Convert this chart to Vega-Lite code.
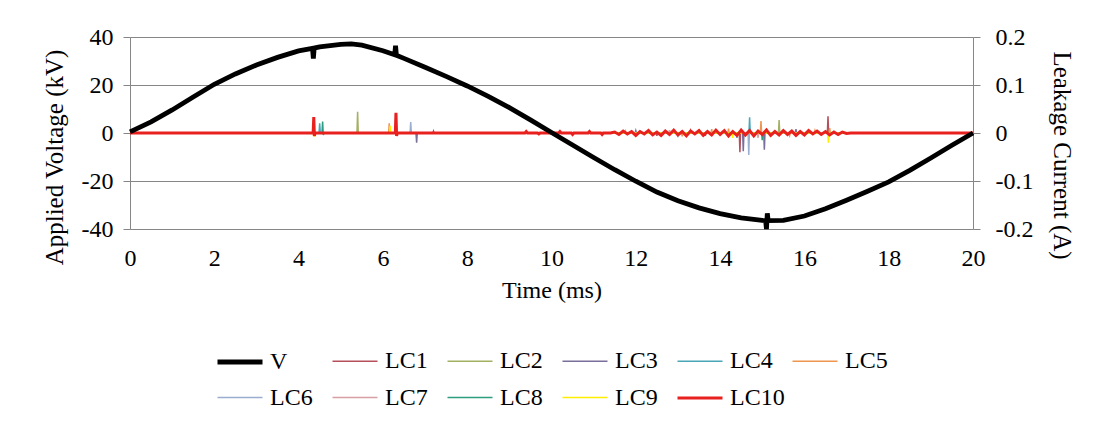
{
  "$schema": "https://vega.github.io/schema/vega-lite/v6.json",
  "width": 843,
  "height": 192,
  "autosize": {"type": "none"},
  "padding": {"left": 130, "top": 37, "right": 121, "bottom": 200},
  "background": "white",
  "config": {
    "view": {"stroke": null},
    "font": "Liberation Serif",
    "axis": {
      "labelFont": "Liberation Serif", "labelFontSize": 24, "labelColor": "#000000",
      "titleFont": "Liberation Serif", "titleFontSize": 24, "titleFontWeight": "normal", "titleColor": "#000000",
      "domainColor": "#868686", "tickColor": "#868686", "gridColor": "#868686", "gridOpacity": 1
    }
  },
  "datasets": {
    "volt": [
      {"s":"V","t":0,"v":0.5},{"s":"V","t":0.5,"v":4.6},{"s":"V","t":1,"v":9.6},{"s":"V","t":1.5,"v":15.0},
      {"s":"V","t":2,"v":20.3},{"s":"V","t":2.5,"v":24.6},{"s":"V","t":3,"v":28.3},{"s":"V","t":3.5,"v":31.5},
      {"s":"V","t":4,"v":34.2},{"s":"V","t":4.33,"v":35.3},{"s":"V","t":4.35,"v":31.0},{"s":"V","t":4.37,"v":35.4},
      {"s":"V","t":4.5,"v":35.9},{"s":"V","t":5,"v":36.9},{"s":"V","t":5.25,"v":37.1},{"s":"V","t":5.5,"v":36.6},{"s":"V","t":6,"v":34.3},
      {"s":"V","t":6.28,"v":32.6},{"s":"V","t":6.3,"v":36.4},{"s":"V","t":6.32,"v":32.4},
      {"s":"V","t":6.5,"v":31.1},{"s":"V","t":7,"v":27.4},{"s":"V","t":7.5,"v":23.6},{"s":"V","t":8,"v":19.6},
      {"s":"V","t":8.5,"v":15.3},{"s":"V","t":9,"v":10.6},{"s":"V","t":9.5,"v":5.5},{"s":"V","t":10,"v":0.2},
      {"s":"V","t":10.5,"v":-5.0},{"s":"V","t":11,"v":-10.2},{"s":"V","t":11.5,"v":-15.3},{"s":"V","t":12,"v":-20.1},
      {"s":"V","t":12.5,"v":-24.6},{"s":"V","t":13,"v":-28.2},{"s":"V","t":13.5,"v":-31.2},{"s":"V","t":14,"v":-33.6},
      {"s":"V","t":14.5,"v":-35.4},{"s":"V","t":15,"v":-36.4},
      {"s":"V","t":15.08,"v":-36.5},{"s":"V","t":15.1,"v":-40.0},{"s":"V","t":15.12,"v":-33.5},{"s":"V","t":15.14,"v":-36.5},
      {"s":"V","t":15.5,"v":-36.4},{"s":"V","t":16,"v":-34.6},{"s":"V","t":16.5,"v":-31.6},{"s":"V","t":17,"v":-28.0},
      {"s":"V","t":17.5,"v":-24.3},{"s":"V","t":18,"v":-20.4},{"s":"V","t":18.5,"v":-15.6},{"s":"V","t":19,"v":-10.4},
      {"s":"V","t":19.5,"v":-5.1},{"s":"V","t":20,"v":0}
    ],
    "lc": [
      {"s":"LC1","t":0,"a":0},{"s":"LC1","t":7.185,"a":0},{"s":"LC1","t":7.2,"a":0.004},{"s":"LC1","t":7.215,"a":0},
      {"s":"LC1","t":12.485,"a":0},{"s":"LC1","t":12.5,"a":-0.006},{"s":"LC1","t":12.515,"a":0},
      {"s":"LC1","t":13.285,"a":0},{"s":"LC1","t":13.3,"a":0.005},{"s":"LC1","t":13.315,"a":0},
      {"s":"LC1","t":14.455,"a":0},{"s":"LC1","t":14.47,"a":-0.04},{"s":"LC1","t":14.485,"a":0},
      {"s":"LC1","t":16.545,"a":0},{"s":"LC1","t":16.56,"a":0.035},{"s":"LC1","t":16.575,"a":0},{"s":"LC1","t":20,"a":0},

      {"s":"LC2","t":0,"a":0},{"s":"LC2","t":5.385,"a":0},{"s":"LC2","t":5.4,"a":0.044},{"s":"LC2","t":5.415,"a":0},
      {"s":"LC2","t":13.485,"a":0},{"s":"LC2","t":13.5,"a":0.007},{"s":"LC2","t":13.515,"a":0},
      {"s":"LC2","t":15.185,"a":0},{"s":"LC2","t":15.2,"a":-0.008},{"s":"LC2","t":15.215,"a":0},
      {"s":"LC2","t":15.385,"a":0},{"s":"LC2","t":15.4,"a":0.027},{"s":"LC2","t":15.415,"a":0},{"s":"LC2","t":20,"a":0},

      {"s":"LC3","t":0,"a":0},{"s":"LC3","t":6.785,"a":0},{"s":"LC3","t":6.8,"a":-0.02},{"s":"LC3","t":6.815,"a":0},
      {"s":"LC3","t":11.985,"a":0},{"s":"LC3","t":12.0,"a":0.005},{"s":"LC3","t":12.015,"a":0},
      {"s":"LC3","t":13.635,"a":0},{"s":"LC3","t":13.65,"a":-0.006},{"s":"LC3","t":13.665,"a":0},
      {"s":"LC3","t":14.535,"a":0},{"s":"LC3","t":14.55,"a":-0.038},{"s":"LC3","t":14.565,"a":0},
      {"s":"LC3","t":15.035,"a":0},{"s":"LC3","t":15.05,"a":-0.035},{"s":"LC3","t":15.065,"a":0},
      {"s":"LC3","t":15.785,"a":0},{"s":"LC3","t":15.8,"a":0.008},{"s":"LC3","t":15.815,"a":0},{"s":"LC3","t":20,"a":0},

      {"s":"LC4","t":0,"a":0},{"s":"LC4","t":4.485,"a":0},{"s":"LC4","t":4.5,"a":0.02},{"s":"LC4","t":4.515,"a":0},
      {"s":"LC4","t":12.985,"a":0},{"s":"LC4","t":13.0,"a":-0.005},{"s":"LC4","t":13.015,"a":0},
      {"s":"LC4","t":14.385,"a":0},{"s":"LC4","t":14.4,"a":-0.01},{"s":"LC4","t":14.415,"a":0},
      {"s":"LC4","t":14.685,"a":0},{"s":"LC4","t":14.7,"a":0.033},{"s":"LC4","t":14.715,"a":0},{"s":"LC4","t":20,"a":0},

      {"s":"LC5","t":0,"a":0},{"s":"LC5","t":6.135,"a":0},{"s":"LC5","t":6.15,"a":0.02},{"s":"LC5","t":6.165,"a":0},
      {"s":"LC5","t":11.735,"a":0},{"s":"LC5","t":11.75,"a":0.004},{"s":"LC5","t":11.765,"a":0},
      {"s":"LC5","t":12.285,"a":0},{"s":"LC5","t":12.3,"a":0.006},{"s":"LC5","t":12.315,"a":0},
      {"s":"LC5","t":13.085,"a":0},{"s":"LC5","t":13.1,"a":-0.007},{"s":"LC5","t":13.115,"a":0},
      {"s":"LC5","t":13.785,"a":0},{"s":"LC5","t":13.8,"a":0.008},{"s":"LC5","t":13.815,"a":0},
      {"s":"LC5","t":14.185,"a":0},{"s":"LC5","t":14.2,"a":0.009},{"s":"LC5","t":14.215,"a":0},
      {"s":"LC5","t":14.955,"a":0},{"s":"LC5","t":14.97,"a":0.025},{"s":"LC5","t":14.985,"a":0},
      {"s":"LC5","t":15.635,"a":0},{"s":"LC5","t":15.65,"a":-0.005},{"s":"LC5","t":15.665,"a":0},
      {"s":"LC5","t":16.235,"a":0},{"s":"LC5","t":16.25,"a":0.005},{"s":"LC5","t":16.265,"a":0},
      {"s":"LC5","t":16.585,"a":0},{"s":"LC5","t":16.6,"a":0.01},{"s":"LC5","t":16.615,"a":0},{"s":"LC5","t":20,"a":0},

      {"s":"LC6","t":0,"a":0},{"s":"LC6","t":6.645,"a":0},{"s":"LC6","t":6.66,"a":0.023},{"s":"LC6","t":6.675,"a":0},
      {"s":"LC6","t":14.665,"a":0},{"s":"LC6","t":14.68,"a":-0.046},{"s":"LC6","t":14.695,"a":0},{"s":"LC6","t":20,"a":0},

      {"s":"LC7","t":0,"a":0},{"s":"LC7","t":12.785,"a":0},{"s":"LC7","t":12.8,"a":0.006},{"s":"LC7","t":12.815,"a":0},
      {"s":"LC7","t":14.885,"a":0},{"s":"LC7","t":14.9,"a":-0.01},{"s":"LC7","t":14.915,"a":0},{"s":"LC7","t":20,"a":0},

      {"s":"LC8","t":0,"a":0},{"s":"LC8","t":4.555,"a":0},{"s":"LC8","t":4.57,"a":0.024},{"s":"LC8","t":4.585,"a":-0.004},{"s":"LC8","t":4.6,"a":0},
      {"s":"LC8","t":14.985,"a":0},{"s":"LC8","t":15.0,"a":-0.015},{"s":"LC8","t":15.015,"a":0},{"s":"LC8","t":20,"a":0},

      {"s":"LC9","t":0,"a":0},{"s":"LC9","t":4.345,"a":0},{"s":"LC9","t":4.36,"a":-0.008},{"s":"LC9","t":4.375,"a":0},
      {"s":"LC9","t":6.155,"a":0},{"s":"LC9","t":6.17,"a":0.015},{"s":"LC9","t":6.185,"a":0},
      {"s":"LC9","t":14.285,"a":0},{"s":"LC9","t":14.3,"a":-0.01},{"s":"LC9","t":14.315,"a":0},
      {"s":"LC9","t":15.085,"a":0},{"s":"LC9","t":15.1,"a":0.01},{"s":"LC9","t":15.115,"a":0},
      {"s":"LC9","t":16.555,"a":0},{"s":"LC9","t":16.57,"a":-0.02},{"s":"LC9","t":16.585,"a":0},{"s":"LC9","t":20,"a":0},

      {"s":"LC10","t":0,"a":0},{"s":"LC10","t":4.345,"a":0},{"s":"LC10","t":4.36,"a":0.033},{"s":"LC10","t":4.375,"a":-0.006},{"s":"LC10","t":4.39,"a":0},
      {"s":"LC10","t":6.295,"a":0},{"s":"LC10","t":6.31,"a":0.042},{"s":"LC10","t":6.325,"a":-0.006},{"s":"LC10","t":6.34,"a":0},
      {"s":"LC10","t":9.37,"a":0},{"s":"LC10","t":9.4,"a":0.003},{"s":"LC10","t":9.43,"a":0},
      {"s":"LC10","t":9.67,"a":0},{"s":"LC10","t":9.7,"a":-0.002},{"s":"LC10","t":9.73,"a":0},
      {"s":"LC10","t":10.17,"a":0},{"s":"LC10","t":10.2,"a":0.003},{"s":"LC10","t":10.23,"a":0},
      {"s":"LC10","t":10.47,"a":0},{"s":"LC10","t":10.5,"a":-0.003},{"s":"LC10","t":10.53,"a":0},
      {"s":"LC10","t":10.87,"a":0},{"s":"LC10","t":10.9,"a":0.003},{"s":"LC10","t":10.93,"a":0},
      {"s":"LC10","t":11.17,"a":0},{"s":"LC10","t":11.2,"a":-0.003},{"s":"LC10","t":11.23,"a":0},
      {"s":"LC10","t":11.4,"a":0},
      {"s":"LC10","t":11.5,"a":0.002},{"s":"LC10","t":11.6,"a":-0.003},{"s":"LC10","t":11.7,"a":0.004},{"s":"LC10","t":11.8,"a":-0.002},{"s":"LC10","t":11.9,"a":0.003},
      {"s":"LC10","t":12.0,"a":-0.005},{"s":"LC10","t":12.1,"a":0.003},{"s":"LC10","t":12.2,"a":-0.002},{"s":"LC10","t":12.3,"a":0.005},{"s":"LC10","t":12.4,"a":-0.004},
      {"s":"LC10","t":12.5,"a":0.002},{"s":"LC10","t":12.6,"a":-0.005},{"s":"LC10","t":12.7,"a":0.004},{"s":"LC10","t":12.8,"a":-0.003},{"s":"LC10","t":12.9,"a":0.006},
      {"s":"LC10","t":13.0,"a":-0.004},{"s":"LC10","t":13.1,"a":0.003},{"s":"LC10","t":13.2,"a":-0.006},{"s":"LC10","t":13.3,"a":0.004},{"s":"LC10","t":13.4,"a":-0.002},
      {"s":"LC10","t":13.5,"a":0.005},{"s":"LC10","t":13.6,"a":-0.005},{"s":"LC10","t":13.7,"a":0.003},{"s":"LC10","t":13.8,"a":-0.004},{"s":"LC10","t":13.9,"a":0.006},
      {"s":"LC10","t":14.0,"a":-0.003},{"s":"LC10","t":14.1,"a":0.005},{"s":"LC10","t":14.2,"a":-0.006},{"s":"LC10","t":14.3,"a":0.003},{"s":"LC10","t":14.4,"a":-0.005},
      {"s":"LC10","t":14.5,"a":0.006},{"s":"LC10","t":14.6,"a":-0.004},{"s":"LC10","t":14.7,"a":0.005},{"s":"LC10","t":14.8,"a":-0.006},{"s":"LC10","t":14.9,"a":0.004},
      {"s":"LC10","t":15.0,"a":-0.003},{"s":"LC10","t":15.1,"a":0.006},{"s":"LC10","t":15.2,"a":-0.005},{"s":"LC10","t":15.3,"a":0.003},{"s":"LC10","t":15.4,"a":-0.004},
      {"s":"LC10","t":15.5,"a":0.005},{"s":"LC10","t":15.6,"a":-0.003},{"s":"LC10","t":15.7,"a":0.004},{"s":"LC10","t":15.8,"a":-0.005},{"s":"LC10","t":15.9,"a":0.003},
      {"s":"LC10","t":16.0,"a":-0.004},{"s":"LC10","t":16.1,"a":0.005},{"s":"LC10","t":16.2,"a":-0.002},{"s":"LC10","t":16.3,"a":0.004},{"s":"LC10","t":16.4,"a":-0.003},
      {"s":"LC10","t":16.5,"a":0.003},{"s":"LC10","t":16.6,"a":-0.004},{"s":"LC10","t":16.7,"a":0.002},{"s":"LC10","t":16.8,"a":-0.003},{"s":"LC10","t":16.9,"a":0.002},
      {"s":"LC10","t":17.0,"a":-0.001},{"s":"LC10","t":17.1,"a":0},{"s":"LC10","t":20,"a":0}
    ]
  },
  "encoding": {
    "x": {
      "field": "t", "type": "quantitative",
      "scale": {"domain": [0, 20], "nice": false},
      "axis": {"title": "Time (ms)", "values": [0,2,4,6,8,10,12,14,16,18,20], "grid": false, "ticks": false, "domain": false, "labelPadding": 17, "titlePadding": 8, "labelFlush": false}
    },
    "color": {
      "field": "s", "type": "nominal",
      "scale": {
        "domain": ["V","LC1","LC2","LC3","LC4","LC5","LC6","LC7","LC8","LC9","LC10"],
        "range": ["#000000","#B5505A","#A3B163","#7A6E9A","#4BA6B8","#EE9650","#9AAFCF","#D8A0A4","#2E9E7E","#FFEE00","#E8201E"]
      },
      "legend": {"title": null, "orient": "none", "legendX": 85, "legendY": 300, "direction": "horizontal", "columns": 6, "symbolType": "stroke", "symbolSize": 2025, "labelFont": "Liberation Serif", "labelFontSize": 24, "labelColor": "#000000", "labelOffset": 5, "columnPadding": 1, "rowPadding": 0, "gridAlign": "all", "padding": 0, "labelLimit": 200}
    },
    "strokeWidth": {
      "field": "s", "type": "nominal",
      "scale": {
        "type": "ordinal",
        "domain": ["V","LC1","LC2","LC3","LC4","LC5","LC6","LC7","LC8","LC9","LC10"],
        "range": [4.8,1.5,1.5,1.5,1.5,1.5,1.5,1.5,1.5,1.5,3]
      },
      "legend": {"title": null, "orient": "none", "legendX": 85, "legendY": 300, "direction": "horizontal", "columns": 6, "symbolType": "stroke", "symbolSize": 2025, "labelFont": "Liberation Serif", "labelFontSize": 24, "labelColor": "#000000", "labelOffset": 5, "columnPadding": 1, "rowPadding": 0, "gridAlign": "all", "padding": 0, "labelLimit": 200}
    }
  },
  "layer": [
    {
      "data": {"name": "lc"},
      "encoding": {
        "y": {
          "field": "a", "type": "quantitative",
          "scale": {"domain": [-0.2, 0.2], "nice": false},
          "axis": {"orient": "right", "title": "Leakage Current (A)", "values": [-0.2,-0.1,0,0.1,0.2], "grid": false, "tickSize": 7, "labelPadding": 15, "titlePadding": 16, "titleFontSize": 25, "titleY": 118,
                   "labelExpr": "datum.value == 0 ? '0' : (datum.value < 0 ? '-' : '') + format(abs(datum.value), '.1f')"}
        }
      },
      "layer": [
        {"transform": [{"filter": "datum.s != 'LC10'"}], "mark": {"type": "line"}},
        {"transform": [{"filter": "datum.s == 'LC10'"}], "mark": {"type": "line"}}
      ]
    },
    {
      "data": {"name": "volt"},
      "mark": {"type": "line"},
      "encoding": {
        "y": {
          "field": "v", "type": "quantitative",
          "scale": {"domain": [-40, 40], "nice": false},
          "axis": {"orient": "left", "title": "Applied Voltage (kV)", "values": [-40,-20,0,20,40], "grid": true, "tickSize": 7, "labelPadding": 10, "titlePadding": 14, "titleFontSize": 25, "titleY": 120,
                   "labelExpr": "(datum.value < 0 ? '-' : '') + format(abs(datum.value), 'd')"}
        }
      }
    }
  ],
  "resolve": {"scale": {"y": "independent"}}
}
